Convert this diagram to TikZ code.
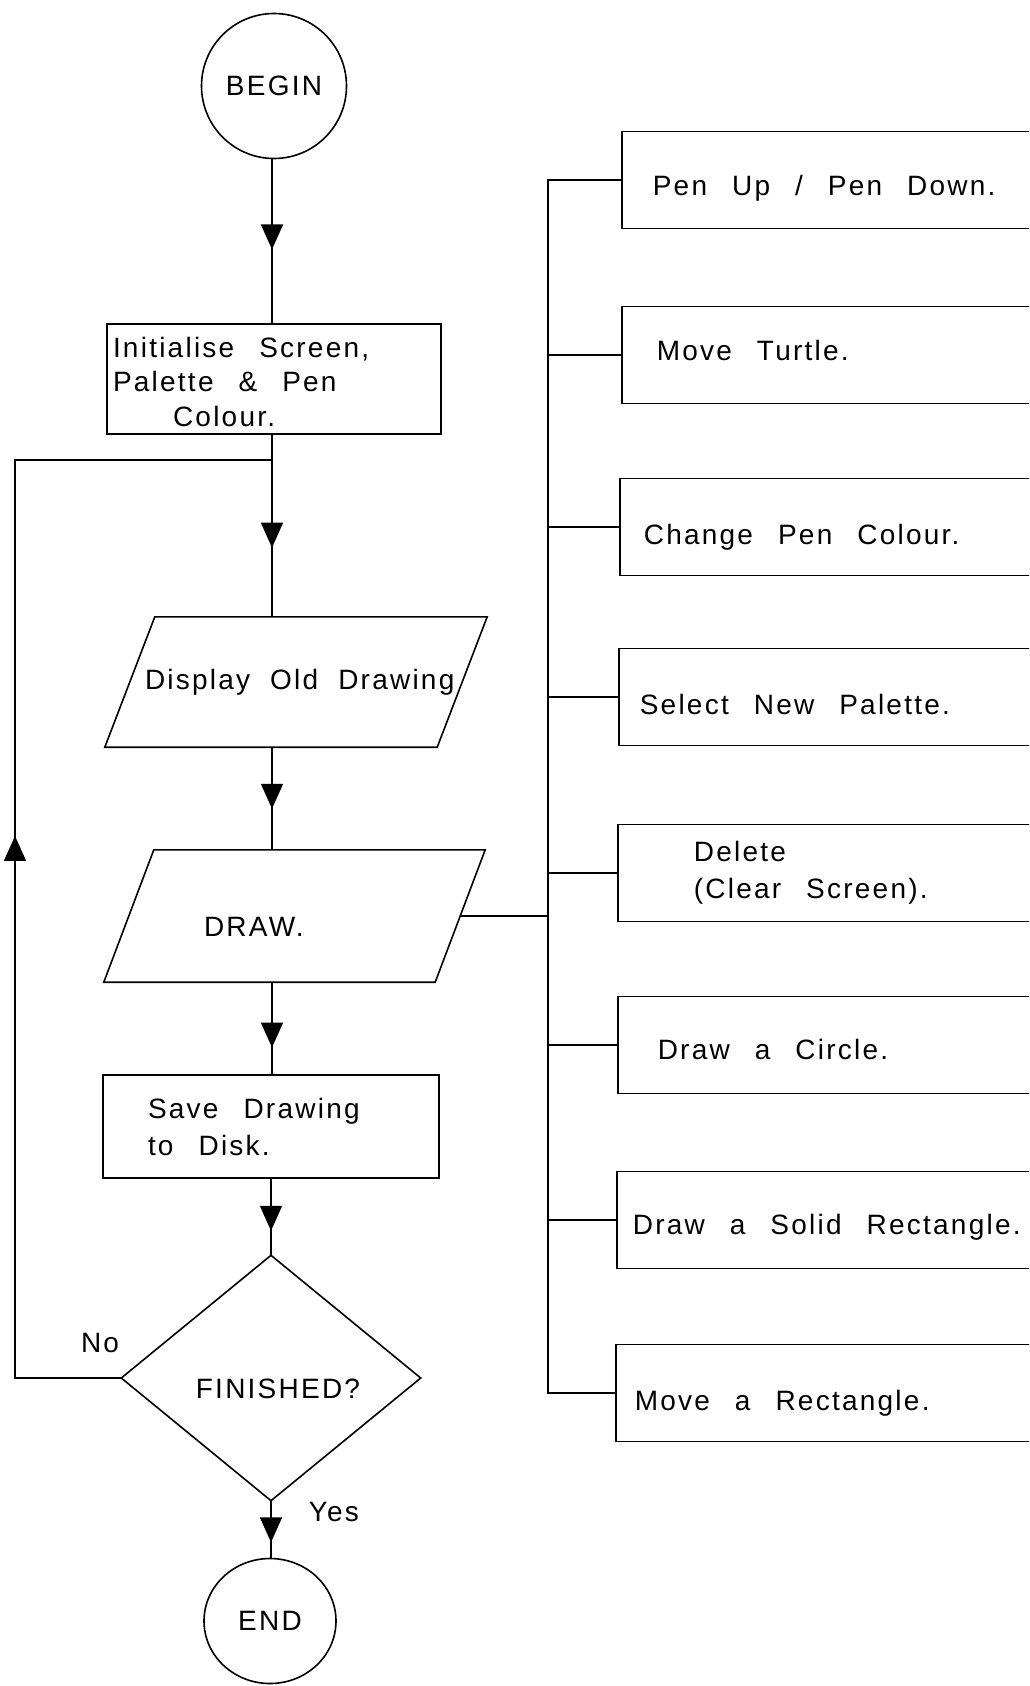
\documentclass[tikz,border=0pt]{standalone}
\usepackage{fontspec}
\setmainfont{Liberation Sans}[LetterSpace=8]
\usetikzlibrary{arrows.meta,decorations.markings,calc,shapes.geometric}
\newcommand\plotfont{\fontsize{28pt}{37pt}\selectfont}
\begin{document}
\begin{tikzpicture}[x=1pt,y=-1pt,
  every node/.style={font=\plotfont, inner sep=0pt,
     execute at begin node={\spaceskip=25pt\relax}},
  line/.style={line width=1.6pt, line join=miter},
  midarrow/.style={postaction={decorate}, decoration={markings,
     mark=at position #1 with {\arrow{Triangle[length=25pt,width=22pt]}}}},
  procbox/.style={draw, line width=1.6pt, align=left},
  iobox/.style={align=left},
  rbox/.style={draw, line width=1.6pt, anchor=west, text width=430pt,
     minimum height=97pt, align=left, text height=34pt, text depth=0pt},
  lbl/.style={inner sep=0pt}]
\useasboundingbox (0,0) rectangle (1029,1686);
\fill[white] (0,0) rectangle (1029,1686);
\clip (0,0) rectangle (1029,1686);

\coordinate (col) at (272,0);
% main column
\node[draw, circle, line width=1.6pt, minimum size=145pt] (begin) at (274,86) {BEGIN};
\node[procbox, text width=334pt, minimum height=110pt, font=\fontsize{28pt}{34.5pt}\selectfont,
      text height=26pt] (init) at (274,379)
  {\hspace*{6pt}Initialise Screen,\\\hspace*{6pt}Palette \& Pen\\\hspace*{66pt}Colour.};
\node[iobox, text width=382pt, minimum height=130pt,
      execute at begin node={\spaceskip=20pt\relax}] (disp) at (296,682)
  {\hspace*{40pt}Display Old Drawing};
\draw[line] ([xshift=50pt]disp.north west) -- (disp.north east)
  -- ([xshift=-50pt]disp.south east) -- (disp.south west) -- cycle;
\node[iobox, text width=381pt, minimum height=132pt, text height=40pt, text depth=0pt] (drw) at (294.5,916)
  {\hspace*{100pt}DRAW.};
\draw[line] ([xshift=50pt]drw.north west) -- (drw.north east)
  -- ([xshift=-50pt]drw.south east) -- (drw.south west) -- cycle;
\node[procbox, text width=336pt, minimum height=103pt] (save) at (271,1126.5)
  {\hspace*{45pt}Save Drawing\\\hspace*{45pt}to Disk.};
\node[minimum width=299pt, minimum height=245pt, text height=40pt, text depth=0pt] (fin) at (271,1378)
  {\hspace*{14pt}FINISHED?};
\draw[line] (fin.north) -- (fin.east) -- (fin.south) -- (fin.west) -- cycle;
\node[draw, ellipse, line width=1.6pt, minimum width=132pt, minimum height=125pt] (end) at (270,1621) {END};

% connectors of the main column
\draw[line, midarrow=0.55] (col |- begin.south) -- (col |- init.north);
\draw[line, midarrow=0.62] (col |- init.south) -- (col |- disp.north);
\draw[line, midarrow=0.60] (col |- disp.south) -- (col |- drw.north);
\draw[line, midarrow=0.71] (col |- drw.south) -- (col |- save.north);
\draw[line, midarrow=0.68] (fin.north |- save.south) -- (fin.north);
\draw[line, midarrow=0.73] (fin.south) -- node[lbl, pos=0.2, right=37pt] {Yes} (fin.south |- end.north);

% loop back
\coordinate (lb) at (15,1378);
\coordinate (lt) at (15,460);
\coordinate (jn) at (272,460);
\draw[line, midarrow=0.506] (fin.west) -- node[lbl, pos=0.2, above=24pt] {No} (lb) -- (lt) -- (jn);

% right side options
\node[rbox, text height=31pt] (p1) at (621,180) {\hspace*{31pt}Pen Up / Pen Down.};
\node[rbox, text height=20pt, text depth=9pt] (p2) at (621,355) {\hspace*{35pt}Move Turtle.};
\node[rbox] (p3) at (619,527)    {\hspace*{24pt}Change Pen Colour.};
\node[rbox] (p4) at (618,697)    {\hspace*{21pt}Select New Palette.};
\node[rbox, text height=, text depth=] (p5) at (617,873)  {\hspace*{76pt}Delete\\\hspace*{76pt}(Clear Screen).};
\node[rbox, text height=29pt] (p6) at (617,1045) {\hspace*{40pt}Draw a Circle.};
\node[rbox, text height=29pt] (p7) at (616,1220) {\hspace*{16pt}Draw a Solid Rectangle.};
\node[rbox] (p8) at (615,1393) {\hspace*{19pt}Move a Rectangle.};

\coordinate (tb) at (548,1393);
\coordinate (drwR) at ($(drw.north east)!0.5!([xshift=-50pt]drw.south east)$);
\draw[line] (p1.west) -- (p1.west -| tb) -- (tb) -- (p8.west);
\foreach \n in {p2,p3,p4,p5,p6,p7} \draw[line] (\n.west -| tb) -- (\n.west);
\draw[line] (drwR) -- (drwR -| tb);
\end{tikzpicture}
\end{document}
